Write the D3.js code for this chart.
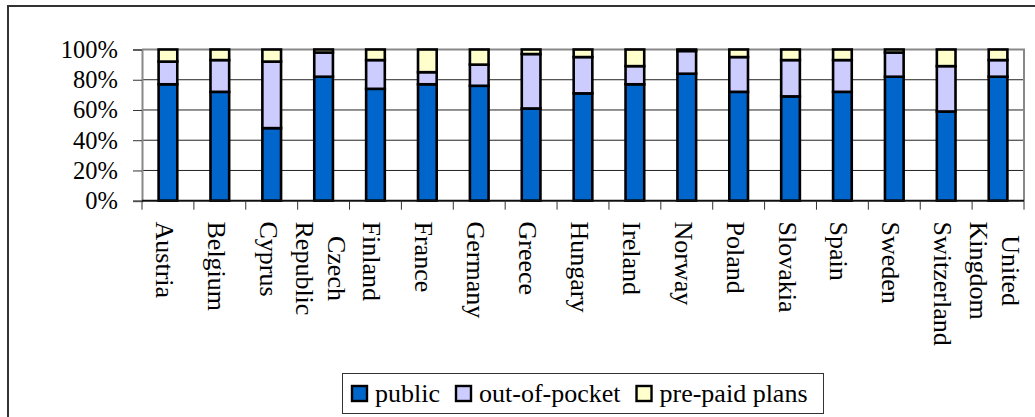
<!DOCTYPE html>
<html lang="en">
    <head>
        <meta charset="utf-8">
        <title>Health spending by source</title>
        <script type="text/javascript" src="https://d3js.org/d3.v7.min.js"></script>
        <style>
            body {
                margin: 0;
                background: white;
            }
            svg text {
                font-family: "Liberation Serif", "Times New Roman", serif;
                fill: black;
            }
            .grid line {
                stroke: #222;
                stroke-width: 1;
            }
        </style>
    </head>
    <body>
        <div id="svgContainer"></div>
        <script type="text/javascript">
            //chart data (percent of total)
            let categories = ["Austria", "Belgium", "Cyprus", "Czech Republic", "Finland", "France", "Germany",
                              "Greece", "Hungary", "Ireland", "Norway", "Poland", "Slovakia", "Spain",
                              "Sweden", "Switzerland", "United Kingdom"];
            let publicShare =      [77, 72, 48, 82, 74, 77, 76, 61, 71, 77, 84, 72, 69, 72, 82, 59, 82];
            let outOfPocketShare = [15, 21, 44, 16, 19,  8, 14, 36, 24, 12, 15, 23, 24, 21, 16, 30, 11];
            let prePaidShare =     [ 8,  7,  8,  2,  7, 15, 10,  3,  5, 11,  1,  5,  7,  7,  2, 11,  7];
            let seriesNames = ["public", "out-of-pocket", "pre-paid plans"];
            let seriesColors = ["#0066cc", "#ccccff", "#ffffcc"];
            let yTicks = [0, 20, 40, 60, 80, 100];

            //set svg size
            let w = 1035;
            let h = 417;
            let plotLeft = 142, plotRight = 1024, plotTop = 49.5, plotBottom = 200.7;

            let svg = d3.select("#svgContainer")
                        .append("svg")
                        .attr("width", w)
                        .attr("height", h);

            //outer chart frame (only left and top edges are visible)
            svg.append("path")
                .attr("d", `M8,${h} L8,6 L${w},6`)
                .attr("fill", "none")
                .attr("stroke", "#333")
                .attr("stroke-width", 2);

            let xScale = d3.scaleBand()
                            .domain(categories)
                            .range([plotLeft, plotRight]);

            let yScale = d3.scaleLinear()
                            .domain([0, 100])
                            .range([plotBottom, plotTop]);

            //gridlines
            svg.append("g")
                .attr("class", "grid")
                .selectAll("line")
                .data(yTicks.filter(d => d > 0 && d < 100))
                .enter()
                .append("line")
                .attr("x1", plotLeft)
                .attr("x2", plotRight)
                .attr("y1", d => yScale(d))
                .attr("y2", d => yScale(d));

            //plot border top and right
            svg.append("path")
                .attr("d", `M${plotLeft},${yScale(100)} L${plotRight},${yScale(100)} L${plotRight},${yScale(0)}`)
                .attr("fill", "none")
                .attr("stroke", "#888")
                .attr("stroke-width", 2);

            //stack the series
            let rows = categories.map((c, i) => ({
                name: c,
                "public": publicShare[i],
                "out-of-pocket": outOfPocketShare[i],
                "pre-paid plans": prePaidShare[i]
            }));
            let stacked = d3.stack().keys(seriesNames)(rows);

            let barWidth = xScale.bandwidth() * 0.36;

            svg.append("g")
                .selectAll("g")
                .data(stacked)
                .enter()
                .append("g")
                .attr("fill", (d, i) => seriesColors[i])
                .selectAll("rect")
                .data(d => d)
                .enter()
                .append("rect")
                .attr("x", d => xScale(d.data.name) + xScale.bandwidth() / 2 - barWidth / 2)
                .attr("y", d => yScale(d[1]))
                .attr("width", barWidth)
                .attr("height", d => yScale(d[0]) - yScale(d[1]))
                .attr("stroke", "black")
                .attr("stroke-width", 2.6);

            //y axis
            let yAxis = d3.axisLeft(yScale)
                            .tickValues(yTicks)
                            .tickFormat(d => d + "%")
                            .tickSize(9)
                            .tickPadding(15);

            let gy = svg.append("g")
                        .attr("transform", `translate(${plotLeft}, 0)`)
                        .call(yAxis);
            gy.select(".domain").attr("stroke", "#888").attr("stroke-width", 2);
            gy.selectAll(".tick line").attr("stroke", "#333");
            gy.selectAll("text")
                .attr("font-family", "Liberation Serif")
                .attr("font-size", 24.5)
                .attr("fill", "black");

            //x axis line and ticks at category boundaries
            svg.append("line")
                .attr("x1", plotLeft)
                .attr("x2", plotRight)
                .attr("y1", plotBottom)
                .attr("y2", plotBottom)
                .attr("stroke", "#111")
                .attr("stroke-width", 2);

            let boundaries = categories.map(c => xScale(c)).concat([plotRight]);
            svg.append("g")
                .selectAll("line")
                .data(boundaries)
                .enter()
                .append("line")
                .attr("x1", d => d)
                .attr("x2", d => d)
                .attr("y1", plotBottom)
                .attr("y2", plotBottom + 9)
                .attr("stroke", "#333");

            //rotated category labels, multi-line ones centred on the longest line
            let labelTop = 221.5;
            let lineGap = 32;
            categories.forEach(c => {
                let lines = c.split(" ");
                let cx = xScale(c) + xScale.bandwidth() / 2;
                let g = svg.append("g");
                let texts = lines.map((l, i) => g.append("text")
                                                  .attr("font-size", 26)
                                                  .attr("text-anchor", "middle")
                                                  .text(l));
                let maxLen = d3.max(texts, t => t.node().getComputedTextLength());
                texts.forEach((t, i) => {
                    let bx = cx - 12 + ((lines.length - 1) / 2 - i) * lineGap;
                    t.attr("transform", `translate(${bx}, ${labelTop + maxLen / 2}) rotate(90)`);
                });
            });

            //legend
            let legend = svg.append("g");
            legend.append("rect")
                .attr("x", 342.5)
                .attr("y", 373.5)
                .attr("width", 481)
                .attr("height", 40)
                .attr("fill", "white")
                .attr("stroke", "#333")
                .attr("stroke-width", 1);

            let lx = 352;
            seriesNames.forEach((s, i) => {
                legend.append("rect")
                    .attr("x", lx)
                    .attr("y", 386)
                    .attr("width", 15)
                    .attr("height", 15)
                    .attr("fill", seriesColors[i])
                    .attr("stroke", "black")
                    .attr("stroke-width", 2.4);
                let t = legend.append("text")
                    .attr("x", lx + 23)
                    .attr("y", 401.5)
                    .attr("font-size", 26)
                    .text(s);
                lx += 23 + t.node().getComputedTextLength() + 16;
            });
        </script>
    </body>
</html>
